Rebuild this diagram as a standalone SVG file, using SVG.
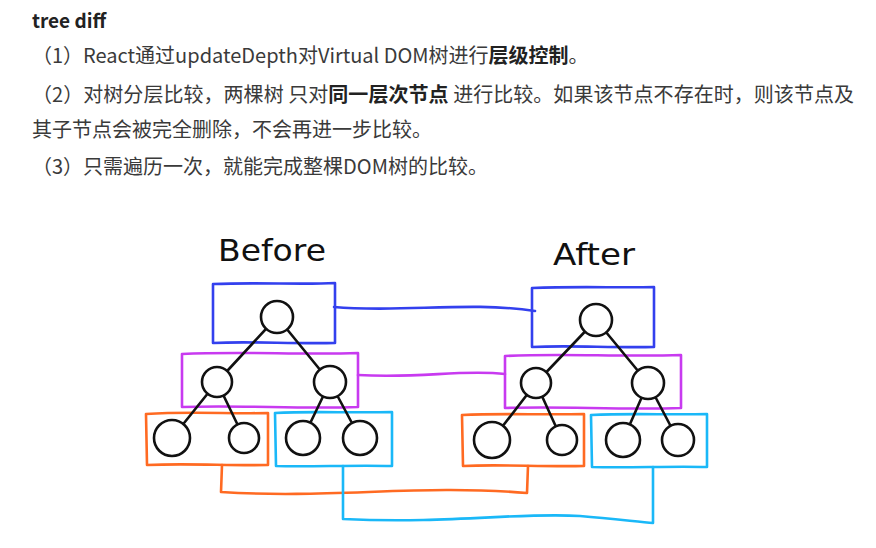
<svg xmlns="http://www.w3.org/2000/svg" width="876" height="548" viewBox="0 0 876 548">
<style>
.t{font-family:"Noto Sans CJK SC","Noto Sans",sans-serif;font-size:20px;fill:#3a3a3a}
.b{font-weight:bold;fill:#222}
.h{font-family:"DejaVu Sans","Liberation Sans",sans-serif;font-size:30px;fill:#111}
.box{fill:none;stroke-width:2.6;stroke-linejoin:round;stroke-linecap:round}
.blue{stroke:#3340ee}
.mag{stroke:#c83af0}
.org{stroke:#ff6a22}
.cyn{stroke:#1ab8f8}
.edge{stroke:#111;stroke-width:2.6;stroke-linecap:round}
.nd{fill:#fff;stroke:#111;stroke-width:2.6}
</style>
<rect width="876" height="548" fill="#fff"/>
<g id="text">
<text class="t b" x="32" y="28" style="font-size:19px">tree diff</text>
<text class="t" x="32" y="63">（1）React通过updateDepth对Virtual DOM树进行<tspan class="b">层级控制</tspan>。</text>
<text class="t" x="32" y="102" textLength="822" lengthAdjust="spacing">（2）对树分层比较，两棵树 只对<tspan class="b">同一层次节点</tspan> 进行比较。如果该节点不存在时，则该节点及</text>
<text class="t" x="32" y="137">其子节点会被完全删除，不会再进一步比较。</text>
<text class="t" x="32" y="174">（3）只需遍历一次，就能完成整棵DOM树的比较。</text>
<text class="h" x="218" y="261" textLength="108" lengthAdjust="spacingAndGlyphs">Before</text>
<text class="h" x="553" y="265" textLength="82" lengthAdjust="spacingAndGlyphs">After</text>
</g>
<g id="connectors">
<path class="box blue" d="M334,307 C400,313 470,301 535,311"/>
<path class="box mag" d="M358,375 C420,379 460,369 505,374"/>
<path class="box org" d="M222,465 L221,492 C330,499 420,484 527,493 L528,466"/>
<path class="box cyn" d="M343,466 L343,519 C450,524 520,512 580,516 C615,519 640,522 653,523 L653,467"/>
</g>
<g id="level-boxes">
<path id="before-l1" class="box blue" d="M213,284 C260,282 300,285 335,283 L335,343 C290,344 250,341 213,343 Z"/>
<path id="before-l2" class="box mag" d="M182,354 C240,351 300,355 358,353 L358,407 C300,409 240,405 182,407 Z"/>
<path id="before-l3a" class="box org" d="M146,414 C190,411 230,414 268,413 L268,465 C230,466 190,463 147,465 Z"/>
<path id="before-l3b" class="box cyn" d="M275,413 C310,411 350,413 392,412 L392,466 C350,465 310,467 276,466 Z"/>
<path id="after-l1" class="box blue" d="M532,288 C580,286 620,288 654,287 L654,347 C610,348 570,345 532,347 Z"/>
<path id="after-l2" class="box mag" d="M505,356 C560,353 620,357 681,355 L681,408 C620,410 560,406 505,408 Z"/>
<path id="after-l3a" class="box org" d="M462,415 C500,413 540,415 584,414 L584,466 C540,467 500,464 463,466 Z"/>
<path id="after-l3b" class="box cyn" d="M591,415 C630,413 670,415 707,414 L707,467 C670,466 630,468 592,467 Z"/>
</g>
<g id="tree-edges">
<line class="edge" x1="277" y1="317" x2="217" y2="382"/>
<line class="edge" x1="277" y1="317" x2="330" y2="382"/>
<line class="edge" x1="217" y1="382" x2="172" y2="438"/>
<line class="edge" x1="217" y1="382" x2="244" y2="438"/>
<line class="edge" x1="330" y1="382" x2="303" y2="438"/>
<line class="edge" x1="330" y1="382" x2="360" y2="438"/>
<line class="edge" x1="596" y1="320" x2="536" y2="383"/>
<line class="edge" x1="596" y1="320" x2="648" y2="383"/>
<line class="edge" x1="536" y1="383" x2="492" y2="440"/>
<line class="edge" x1="536" y1="383" x2="562" y2="440"/>
<line class="edge" x1="648" y1="383" x2="623" y2="440"/>
<line class="edge" x1="648" y1="383" x2="678" y2="440"/>
</g>
<g id="before-root"><circle class="nd" cx="277" cy="317" r="16"/></g>
<g id="before-a"><circle class="nd" cx="217" cy="382" r="15"/></g>
<g id="before-b"><circle class="nd" cx="330" cy="382" r="16"/></g>
<g id="before-a1"><circle class="nd" cx="172" cy="438" r="18"/></g>
<g id="before-a2"><circle class="nd" cx="244" cy="438" r="15"/></g>
<g id="before-b1"><circle class="nd" cx="303" cy="438" r="17"/></g>
<g id="before-b2"><circle class="nd" cx="360" cy="438" r="17"/></g>
<g id="after-root"><circle class="nd" cx="596" cy="320" r="16"/></g>
<g id="after-a"><circle class="nd" cx="536" cy="383" r="15"/></g>
<g id="after-b"><circle class="nd" cx="648" cy="383" r="16"/></g>
<g id="after-a1"><circle class="nd" cx="492" cy="440" r="18"/></g>
<g id="after-a2"><circle class="nd" cx="562" cy="440" r="15"/></g>
<g id="after-b1"><circle class="nd" cx="623" cy="440" r="17"/></g>
<g id="after-b2"><circle class="nd" cx="678" cy="440" r="16"/></g>
</svg>
